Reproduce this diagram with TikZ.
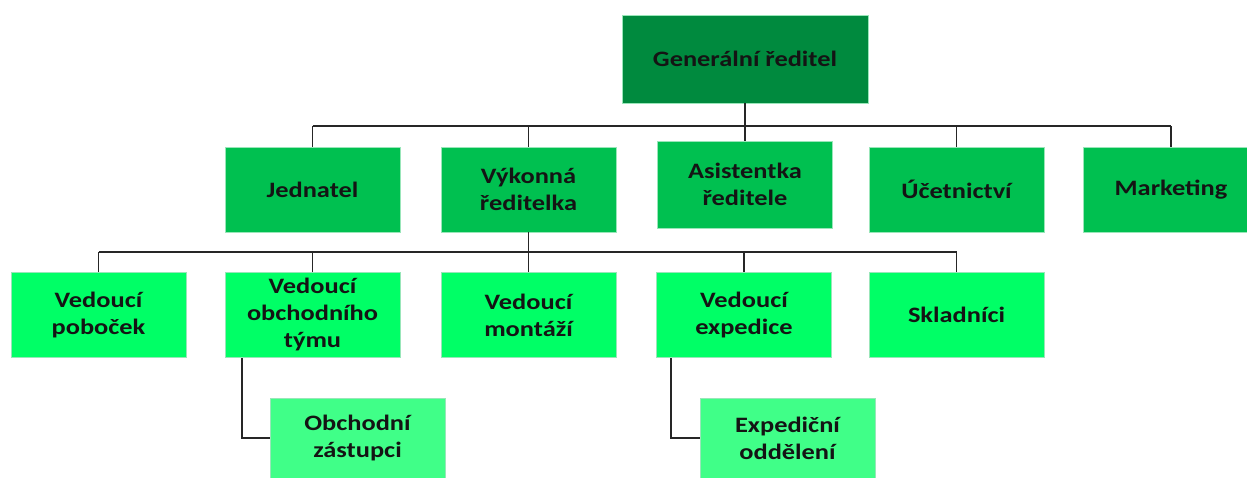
\documentclass[tikz,border=0pt]{standalone}
\usepackage{fontspec}
\setmainfont{Carlito}[FakeStretch=1.2]
\definecolor{lvlA}{RGB}{0,138,62}
\definecolor{lvlB}{RGB}{0,192,80}
\definecolor{lvlC}{RGB}{0,255,102}
\definecolor{lvlD}{RGB}{64,255,136}
\definecolor{txt}{RGB}{20,20,20}
\tikzset{
  box/.style={rectangle,draw=white!60!lvlB,line width=0.6pt,minimum width=175pt,minimum height=85pt,
    align=center,inner sep=2pt,text=txt,font=\fontsize{22}{27}\selectfont\bfseries},
  conn/.style={draw=black!85,line width=1.8pt}
}
\begin{document}
\begin{tikzpicture}[x=1pt,y=-1pt]
	\useasboundingbox (0,0) rectangle (1247,478);

	\node[box,fill=lvlA,minimum width=246pt,minimum height=88pt] (gr) at (745,59) {Generální ředitel};

	\node[box,fill=lvlB] (jed) at (312.5,189.5) {Jednatel};
	\node[box,fill=lvlB] (vyk) at (528.5,189.5) {Výkonná\\ředitelka};
	\node[box,fill=lvlB,minimum height=87pt] (asi) at (745,184.5) {Asistentka\\ředitele};
	\node[box,fill=lvlB] (uce) at (956.5,189.5) {Účetnictví};
	\node[box,fill=lvlB] (mar) at (1171,189.5) {Marketing};

	\node[box,fill=lvlC] (pob) at (98.5,315) {Vedoucí\\poboček};
	\node[box,fill=lvlC] (obt) at (312.5,315) {Vedoucí\\obchodního\\týmu};
	\node[box,fill=lvlC] (mon) at (528.5,315) {Vedoucí\\montáží};
	\node[box,fill=lvlC] (exp) at (744,315) {Vedoucí\\expedice};
	\node[box,fill=lvlC] (skl) at (956.5,315) {Skladníci};

	\node[box,fill=lvlD,minimum height=80pt] (zas) at (357.5,438) {Obchodní\\zástupci};
	\node[box,fill=lvlD,minimum height=80pt] (odd) at (787.5,438) {Expediční\\oddělení};

	% first level
	\draw[conn] (gr.south) -- ++(0,23) coordinate (busA);
	\draw[conn] (jed.north |- busA) -- (mar.north |- busA);
	\foreach \n in {jed,vyk,asi,uce,mar}
		\draw[conn] (\n.north) -- (\n.north |- busA);

	% second level
	\draw[conn] (vyk.south) -- ++(0,20) coordinate (busB);
	\draw[conn] (pob.north |- busB) -- (skl.north |- busB);
	\foreach \n in {pob,obt,mon,exp,skl}
		\draw[conn] (\n.north) -- (\n.north |- busB);

	% third level
	\draw[conn] (zas.west) -| ([xshift=17pt]obt.south west);
	\draw[conn] (odd.west) -| ([xshift=15pt]exp.south west);
\end{tikzpicture}
\end{document}
